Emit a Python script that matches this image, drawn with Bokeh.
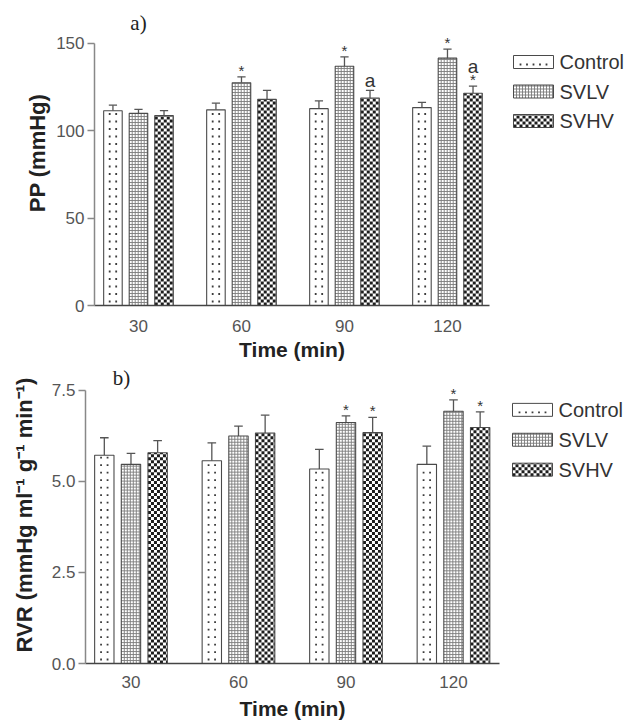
import math
import numpy as np
from bokeh.plotting import figure
from bokeh.models import (ColumnDataSource, FixedTicker, Range1d, LabelSet, Label,
                          PrintfTickFormatter)
from bokeh.core.properties import value
from bokeh.layouts import column, row
from bokeh.embed import file_html
from bokeh.resources import INLINE

# ---------------- data ----------------
times = ["30", "60", "90", "120"]
series = ["Control", "SVLV", "SVHV"]

pp_control = [111.5, 112.0, 112.7, 113.3]
pp_svlv = [110.0, 127.5, 137.0, 141.6]
pp_svhv = [108.7, 118.0, 118.8, 121.5]
pp_control_err = [3.2, 3.8, 4.4, 3.0]
pp_svlv_err = [2.3, 3.4, 5.3, 5.2]
pp_svhv_err = [2.9, 5.2, 4.4, 4.1]
pp_ticks = [0, 50, 100, 150]
# (time index, series index, mark)
pp_marks = [(1, 1, "*"), (2, 1, "*"), (3, 1, "*"), (2, 2, "a"), (3, 2, "*"), (3, 2, "a")]

rvr_control = [5.72, 5.57, 5.34, 5.47]
rvr_svlv = [5.47, 6.25, 6.62, 6.93]
rvr_svhv = [5.79, 6.33, 6.34, 6.48]
rvr_control_err = [0.48, 0.49, 0.54, 0.50]
rvr_svlv_err = [0.30, 0.27, 0.18, 0.31]
rvr_svhv_err = [0.33, 0.49, 0.42, 0.43]
rvr_ticks = [0.0, 2.5, 5.0, 7.5]
rvr_marks = [(2, 1, "*"), (2, 2, "*"), (3, 1, "*"), (3, 2, "*")]

# ---------------- styling ----------------
FONT = "Liberation Sans"
offsets = [-0.248, 0.0, 0.248]
BAR_W = 0.18
CAP_W = 0.08
fills = ["dots", "grid", "checker"]


def new_acc():
    return dict(dx=[], dy=[], gx0=[], gy0=[], gx1=[], gy1=[], ql=[], qr=[], qb=[], qt=[])


def pattern(kind, l, r, b, t, kx, ky, acc):
    wpx = (r - l) * kx
    hpx = (t - b) * ky
    if kind == "dots":
        sp = 6.5
        n = max(1, int(round(wpx / sp)) - 1)
        start = (wpx - (n - 1) * sp) / 2
        yy = 4.0
        while yy < hpx - 2:
            for k in range(n):
                acc["dx"].append(l + (start + k * sp) / kx)
                acc["dy"].append(b + yy / ky)
            yy += 7.5
    elif kind == "grid":
        step = 3.0
        xx = step
        while xx < wpx - 0.5:
            acc["gx0"].append(l + xx / kx); acc["gx1"].append(l + xx / kx)
            acc["gy0"].append(b); acc["gy1"].append(t)
            xx += step
        yy = step
        while yy < hpx - 0.5:
            acc["gx0"].append(l); acc["gx1"].append(r)
            acc["gy0"].append(b + yy / ky); acc["gy1"].append(b + yy / ky)
            yy += step
    else:
        s = 3.0
        ncol = int(math.ceil(wpx / s))
        nrow = int(math.ceil(hpx / s))
        for i in range(nrow):
            for j in range(ncol):
                if (i + j) % 2 == 0:
                    acc["ql"].append(l + j * s / kx)
                    acc["qr"].append(min(r, l + (j + 1) * s / kx))
                    acc["qb"].append(b + i * s / ky)
                    acc["qt"].append(min(t, b + (i + 1) * s / ky))


def draw_acc(p, acc):
    p.scatter(acc["dx"], acc["dy"], marker="square", size=1.8,
              fill_color="#3c3c3c", line_color=None)
    p.segment(acc["gx0"], acc["gy0"], acc["gx1"], acc["gy1"],
              line_color="#7c7c7c", line_width=0.9)
    p.quad(left=acc["ql"], right=acc["qr"], bottom=acc["qb"], top=acc["qt"],
           fill_color="#1c1c1c", line_color=None)


def make_panel(values, errs, ticks, marks, ylabel, fmt, tag, tag_px, P, ylab_std, xlab_std, xtick_std):
    fw = P["w"] - P["bl"] - P["br"]
    fh = P["h"] - P["bb"]
    kx = fw / (P["x1"] - P["x0"])
    ky = fh / P["y1"]
    p = figure(width=P["w"], height=P["h"], output_backend="svg", toolbar_location=None,
               x_range=Range1d(P["x0"], P["x1"]), y_range=Range1d(0, P["y1"]),
               min_border_left=P["bl"], min_border_right=P["br"],
               min_border_top=0, min_border_bottom=P["bb"])
    p.outline_line_color = None
    p.xgrid.visible = False
    p.ygrid.visible = False
    p.background_fill_color = "white"
    p.border_fill_color = "white"

    acc = new_acc()
    bars = dict(x=[], top=[])
    for s, name in enumerate(series):
        xs = np.arange(len(times)) + offsets[s]
        tops = np.array(values[s], dtype=float)
        e = np.array(errs[s], dtype=float)
        p.segment(xs, tops, xs, tops + e, line_color="#555555", line_width=1.3)
        p.segment(xs - CAP_W / 2, tops + e, xs + CAP_W / 2, tops + e,
                  line_color="#555555", line_width=1.3)
        for xv, tv in zip(xs, tops):
            pattern(fills[s], xv - BAR_W / 2, xv + BAR_W / 2, 0.0, tv, kx, ky, acc)
            bars["x"].append(xv); bars["top"].append(tv)

    bsrc = ColumnDataSource(bars)
    p.vbar(x="x", top="top", width=BAR_W, bottom=0, source=bsrc,
           fill_color="white", line_color=None)
    draw_acc(p, acc)
    p.vbar(x="x", top="top", width=BAR_W, bottom=0, source=bsrc,
           fill_color=None, line_color="#4a4a4a", line_width=1.1)

    # significance marks
    mx, my, mt, mo, ms = [], [], [], [], []
    stack = {}
    for (ti, si, txt) in marks:
        k = stack.get((ti, si), 0)
        stack[(ti, si)] = k + 1
        mx.append(ti + offsets[si])
        my.append(values[si][ti] + errs[si][ti])
        mt.append(txt)
        if txt == "*":
            mo.append(1 + 12 * k)
            ms.append("15px")
        else:
            mo.append(3 + 10 * k)
            ms.append("19px")
    msrc = ColumnDataSource(dict(x=mx, y=my, t=mt, o=mo, s=ms))
    p.add_layout(LabelSet(x="x", y="y", text="t", source=msrc, y_offset="o",
                          text_font_size="s", text_font=value(FONT), text_color="#333333",
                          text_align="center", text_baseline="alphabetic"))

    # panel tag
    p.add_layout(Label(x=tag_px[0], y=fh - tag_px[1], x_units="screen", y_units="screen",
                       text=tag, text_font="Liberation Serif", text_font_size="21px",
                       text_color="#222222", text_align="center", text_baseline="middle"))

    # axes
    xa = p.xaxis[0]
    xa.ticker = FixedTicker(ticks=list(range(len(times))))
    xa.major_label_overrides = {i: t for i, t in enumerate(times)}
    xa.major_tick_line_color = None
    xa.minor_tick_line_color = None
    xa.major_tick_out = 0
    xa.axis_line_color = "#444444"
    xa.axis_line_width = 1.3
    xa.major_label_text_font = FONT
    xa.major_label_text_font_size = "17px"
    xa.major_label_text_color = "#555555"
    xa.major_label_standoff = xtick_std
    xa.axis_label = "Time (min)"
    xa.axis_label_text_font = FONT
    xa.axis_label_text_font_size = "21px"
    xa.axis_label_text_font_style = "bold"
    xa.axis_label_text_color = "#222222"
    xa.axis_label_standoff = xlab_std

    ya = p.yaxis[0]
    ya.ticker = FixedTicker(ticks=ticks)
    ya.bounds = (ticks[0], ticks[-1])
    if fmt:
        ya.formatter = PrintfTickFormatter(format=fmt)
    ya.minor_tick_line_color = None
    ya.major_tick_out = 7
    ya.major_tick_in = 0
    ya.major_tick_line_color = "#888888"
    ya.major_tick_line_width = 1.3
    ya.axis_line_color = "#888888"
    ya.axis_line_width = 1.5
    ya.major_label_text_font = FONT
    ya.major_label_text_font_size = "17px"
    ya.major_label_text_color = "#555555"
    ya.major_label_standoff = 3
    ya.axis_label = ylabel
    ya.axis_label_text_font = FONT
    ya.axis_label_text_font_size = "22px"
    ya.axis_label_text_font_style = "bold"
    ya.axis_label_text_color = "#222222"
    ya.axis_label_standoff = ylab_std
    return p


def make_legend(P, box_x, first_cy, pitch):
    W = 640 - P["w"]
    H = P["h"]
    fh = H - P["bb"]
    q = figure(width=W, height=H, output_backend="svg", toolbar_location=None,
               x_range=Range1d(0, W), y_range=Range1d(0, fh),
               min_border_left=0, min_border_right=0, min_border_top=0,
               min_border_bottom=P["bb"],
               x_axis_location=None, y_axis_location=None)
    q.outline_line_color = None
    q.xgrid.visible = False
    q.ygrid.visible = False
    q.background_fill_color = "white"
    q.border_fill_color = "white"
    acc = new_acc()
    bl, br, bb, bt, tx, ty = [], [], [], [], [], []
    for s, name in enumerate(series):
        cy = fh - (first_cy + s * pitch)
        l, r, b, t = box_x, box_x + 40, cy - 6.5, cy + 6.5
        pattern(fills[s], l, r, b, t, 1.0, 1.0, acc)
        bl.append(l); br.append(r); bb.append(b); bt.append(t)
        tx.append(box_x + 46); ty.append(cy)
    q.quad(left=bl, right=br, bottom=bb, top=bt, fill_color="white", line_color=None)
    draw_acc(q, acc)
    q.quad(left=bl, right=br, bottom=bb, top=bt, fill_color=None,
           line_color="#4a4a4a", line_width=1.0)
    q.text(x=tx, y=ty, text=series, text_font=value(FONT), text_font_size="20px",
           text_color="#333333", text_baseline="middle", text_align="left")
    return q


P_top = dict(w=494, h=366, bl=94, br=5, bb=61, x0=-0.427, x1=3.408, y1=174.6)
P_bot = dict(w=504, h=356, bl=85, br=5, bb=58, x0=-0.423, x1=3.428, y1=8.157)

top = make_panel([pp_control, pp_svlv, pp_svhv], [pp_control_err, pp_svlv_err, pp_svhv_err],
                 pp_ticks, pp_marks, "PP (mmHg)", None, "a)", (44, 22), P_top, 3, 3, 14)
top_leg = make_legend(P_top, 19, 61.5, 29.5)

bottom = make_panel([rvr_control, rvr_svlv, rvr_svhv], [rvr_control_err, rvr_svlv_err, rvr_svhv_err],
                    rvr_ticks, rvr_marks, "RVR (mmHg ml\u207b\u00b9 g\u207b\u00b9 min\u207b\u00b9)", "%.1f",
                    "b)", (36, 12), P_bot, 12, 6, 12)
bot_leg = make_legend(P_bot, 8, 43.5, 30)

layout = column(row(top, top_leg, spacing=0), row(bottom, bot_leg, spacing=0), spacing=0)
open("out.html", "w").write(file_html(layout, INLINE))
